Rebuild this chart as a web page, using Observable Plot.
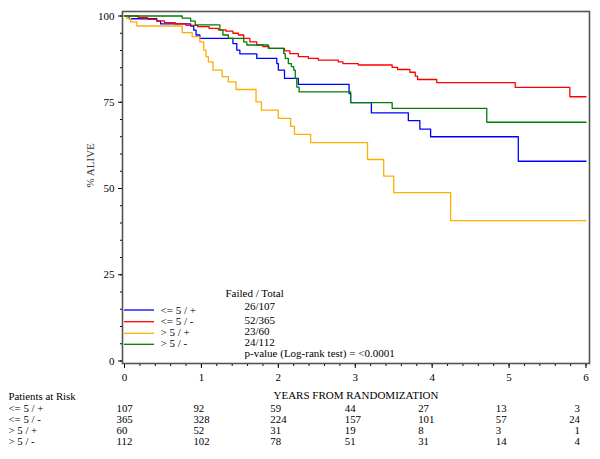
<!DOCTYPE html>
<html><head><meta charset="utf-8">
<script src="https://cdn.jsdelivr.net/npm/d3@7"></script>
<script src="https://cdn.jsdelivr.net/npm/@observablehq/plot@0.6"></script>
<style>body{margin:0;background:#fff;}</style>
</head><body><div id="chart"></div>
<script>
// ---- data ----
const groups = ["<= 5 / +", "<= 5 / -", "> 5 / +", "> 5 / -"];
const colors = ["#0000ff", "#ff0000", "#ffad00", "#008000"];
const failedTotal = ["26/107", "52/365", "23/60", "24/112"];
const legendTitle = "Failed / Total";
const pValueText = "p-value (Log-rank test) = <0.0001";
const yearTicks = [0, 1, 2, 3, 4, 5, 6];
const pctTicks = [0, 25, 50, 75, 100];
const riskTitle = "Patients at Risk";
const riskLe5Pos = [107, 92, 59, 44, 27, 13, 3];
const riskLe5Neg = [365, 328, 224, 157, 101, 57, 24];
const riskGt5Pos = [60, 52, 31, 19, 8, 3, 1];
const riskGt5Neg = [112, 102, 78, 51, 31, 14, 4];

// Kaplan-Meier steps (years, % alive)
const tLe5Pos = [0, 0.06, 0.42, 0.47, 0.86, 0.90, 0.93, 0.98, 1.41, 1.46, 1.50, 1.72, 1.98, 2.00, 2.08, 2.26, 2.92, 2.94, 3.21, 3.69, 3.84, 3.98, 5.12, 6.0];
const sLe5Pos = [100, 99.2, 98.5, 97.7, 97.1, 95.9, 94.5, 93.5, 92.0, 90.1, 89.0, 87.7, 86.2, 84.3, 81.9, 80.2, 77.5, 74.9, 71.9, 69.7, 67.2, 65.0, 57.9, 57.9];
const tLe5Neg = [0, 0.18, 0.30, 0.42, 0.52, 0.66, 0.80, 0.95, 1.10, 1.22, 1.32, 1.41, 1.48, 1.55, 1.63, 1.72, 1.80, 1.88, 2.08, 2.15, 2.26, 2.39, 2.52, 2.78, 2.84, 3.04, 3.48, 3.55, 3.71, 3.78, 3.81, 4.06, 5.08, 5.79, 6.0];
const sLe5Neg = [100, 99.5, 99.0, 98.6, 98.1, 97.7, 97.3, 96.9, 96.4, 96.0, 95.6, 95.0, 94.5, 93.5, 92.5, 91.6, 91.1, 90.6, 89.9, 89.1, 88.2, 87.7, 87.2, 86.7, 86.2, 85.8, 85.1, 84.5, 83.7, 82.6, 81.6, 80.7, 79.3, 76.6, 76.6];
const tGt5Pos = [0, 0.03, 0.08, 0.16, 0.75, 0.88, 0.98, 1.03, 1.06, 1.09, 1.15, 1.27, 1.35, 1.45, 1.71, 1.78, 2.00, 2.16, 2.21, 2.42, 3.16, 3.37, 3.50, 4.24, 6.0];
const sGt5Pos = [100, 99.3, 98.3, 97.1, 95.2, 94.0, 92.5, 90.1, 88.2, 86.7, 84.3, 82.4, 80.9, 78.7, 75.1, 72.7, 70.3, 68.0, 65.7, 63.3, 58.4, 53.6, 48.8, 40.7, 40.7];
const tGt5Neg = [0, 0.75, 0.86, 0.92, 1.24, 1.28, 1.35, 1.55, 1.59, 1.87, 2.07, 2.09, 2.13, 2.17, 2.20, 2.22, 2.24, 2.27, 2.94, 3.48, 4.71, 6.0];
const sGt5Neg = [100, 99.4, 98.5, 97.4, 95.9, 94.5, 93.5, 92.5, 91.6, 90.6, 89.1, 87.7, 86.2, 85.3, 84.3, 81.9, 79.4, 78.0, 74.9, 73.2, 69.2, 69.2];

// ---- build tables ----
const curveT = [tLe5Pos, tLe5Neg, tGt5Pos, tGt5Neg];
const curveS = [sLe5Pos, sLe5Neg, sGt5Pos, sGt5Neg];
const curves = groups.flatMap((g, i) => curveT[i].map((t, j) => ({group: g, t, s: curveS[i][j]})));
const riskRows = [riskLe5Pos, riskLe5Neg, riskGt5Pos, riskGt5Neg];

// ---- layout (pixels) ----
const FONT = "Liberation Serif, Times New Roman, serif";
const legTitleDy = -66.3;
const legCountDy = [-53.7, -39.7, -29, -18];
const legLabelDy = [-49.7, -39, -27.3, -16.3];
const legSwatchDy = [-53, -41.3, -29.7, -18.7];
const riskTitleDy = 36.8;
const riskRowDy = [48.2, 59.4, 70.5, 81.4];
const riskColDx = [-8, -8, -8, -10.5, -14, -13.3, -6];

const legendSwatches = (index, scales, values, dims) => {
  const g = d3.create("svg:g");
  const x0 = dims.marginLeft + 2, x1 = x0 + 30;
  const yb = dims.height - dims.marginBottom;
  legSwatchDy.forEach((dy, i) => {
    g.append("line").attr("x1", x0).attr("x2", x1)
      .attr("y1", yb + dy).attr("y2", yb + dy)
      .attr("stroke", colors[i]).attr("stroke-width", 1.3);
  });
  return g.node();
};

const tableMarks = riskRows.flatMap((row, r) =>
  row.map((v, c) => Plot.text([v], {
    x: yearTicks[c], text: d => String(d), frameAnchor: "bottom",
    dy: riskRowDy[r], dx: riskColDx[c], fontSize: 10.8,
    textAnchor: c === yearTicks.length - 1 ? "end" : "start", fill: "black"
  }))
);

const chart = Plot.plot({
  width: 600, height: 459,
  marginTop: 11, marginBottom: 96, marginLeft: 122, marginRight: 11,
  style: {fontFamily: FONT, fontSize: "11px", background: "white", color: "black"},
  x: {domain: [0, 6], insetLeft: 2, insetRight: 3.5},
  y: {domain: [0, 100], insetTop: 4.5, insetBottom: 2.5},
  color: {domain: groups, range: colors},
  marks: [
    Plot.axisY({ticks: d3.range(0, 101, 5), tickSize: 2, tickFormat: () => "", label: null}),
    Plot.axisY({ticks: pctTicks, tickSize: 4, tickPadding: 4, tickFormat: d => String(d), label: null, fontSize: 11}),
    Plot.axisX({ticks: d3.range(0, 31).map(i => i / 5), tickSize: 3, tickFormat: () => "", label: null}),
    Plot.axisX({ticks: yearTicks, tickSize: 5, tickPadding: 5, tickFormat: d => String(d), label: null, fontSize: 11}),
    Plot.line(curves, {x: "t", y: "s", z: "group", stroke: "group", curve: "step-after", strokeWidth: 1.3}),
    Plot.frame({stroke: "#555", strokeWidth: 1.6}),
    Plot.text(["% ALIVE"], {frameAnchor: "left", rotate: -90, dx: -32, fill: "#333"}),
    Plot.text(["YEARS FROM RANDOMIZATION"], {frameAnchor: "bottom", dy: 35}),
    Plot.text([legendTitle], {frameAnchor: "bottom-left", dx: 103, dy: legTitleDy, textAnchor: "start"}),
    ...failedTotal.map((s, i) => Plot.text([s], {frameAnchor: "bottom-left", dx: 122, dy: legCountDy[i], textAnchor: "start"})),
    ...groups.map((s, i) => Plot.text([s], {frameAnchor: "bottom-left", dx: 38, dy: legLabelDy[i], textAnchor: "start"})),
    Plot.text([pValueText], {frameAnchor: "bottom-left", dx: 122, dy: -6.3, textAnchor: "start"}),
    legendSwatches,
    Plot.text([riskTitle], {frameAnchor: "bottom-left", dx: -114, dy: riskTitleDy, textAnchor: "start", fontSize: 10.8}),
    ...groups.map((s, i) => Plot.text([s], {frameAnchor: "bottom-left", dx: -114, dy: riskRowDy[i], textAnchor: "start", fontSize: 10.8})),
    ...tableMarks
  ]
});
document.getElementById("chart").appendChild(chart);
</script>
</body></html>
